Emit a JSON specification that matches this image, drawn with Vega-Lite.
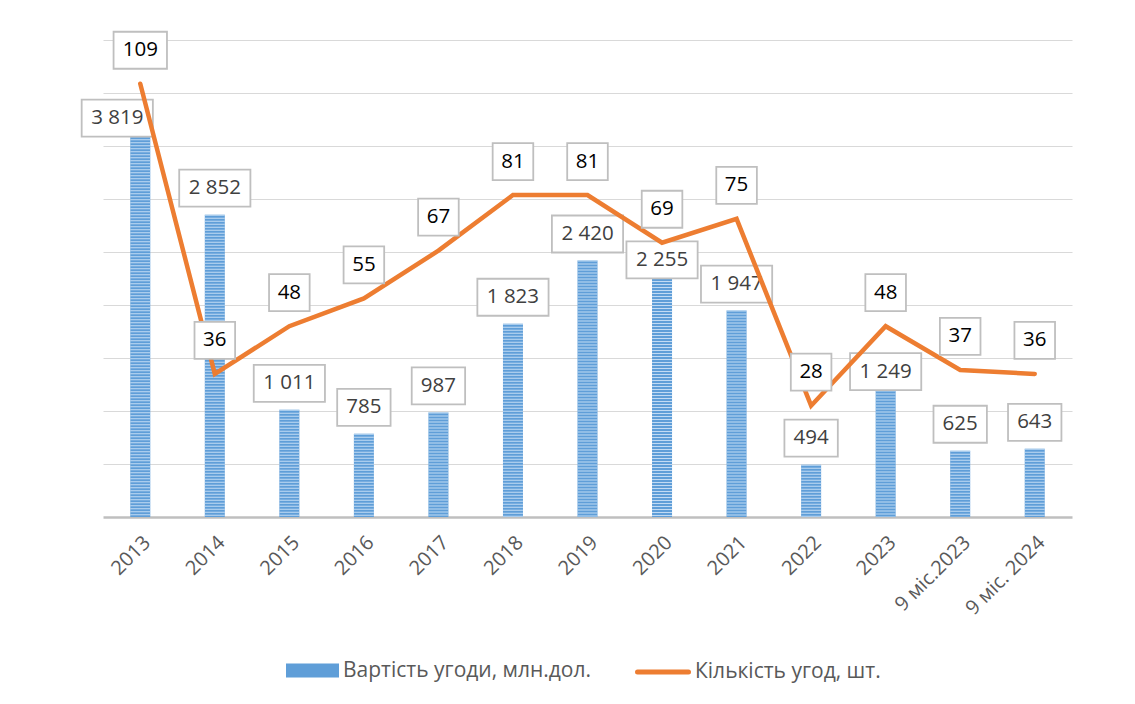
{
  "$schema": "https://vega.github.io/schema/vega-lite/v6.json",
  "width": 969,
  "height": 477,
  "autosize": {"type": "none"},
  "padding": {"left": 103, "top": 40, "right": 63, "bottom": 187},
  "background": "#ffffff",
  "config": {
    "view": {"stroke": null},
    "font": "Open Sans",
    "locale": {"number": {"decimal": ",", "thousands": " ", "grouping": [3], "currency": ["", ""]}}
  },
  "data": {
    "values": [
      {"period": "2013", "value": 3819, "count": 109},
      {"period": "2014", "value": 2852, "count": 36},
      {"period": "2015", "value": 1011, "count": 48},
      {"period": "2016", "value": 785, "count": 55},
      {"period": "2017", "value": 987, "count": 67},
      {"period": "2018", "value": 1823, "count": 81},
      {"period": "2019", "value": 2420, "count": 81},
      {"period": "2020", "value": 2255, "count": 69},
      {"period": "2021", "value": 1947, "count": 75},
      {"period": "2022", "value": 494, "count": 28},
      {"period": "2023", "value": 1249, "count": 48},
      {"period": "9 міс.2023", "value": 625, "count": 37},
      {"period": "9 міс. 2024", "value": 643, "count": 36}
    ]
  },
  "encoding": {
    "x": {
      "field": "period",
      "type": "nominal",
      "sort": null,
      "scale": {"paddingInner": 0.73, "paddingOuter": 0.365},
      "axis": {
        "title": null,
        "labelAngle": -45,
        "labelFontSize": 20,
        "labelColor": "#595959",
        "labelFont": "Open Sans",
        "ticks": false,
        "domainColor": "#BFBFBF",
        "domainWidth": 2.5,
        "labelPadding": 15,
        "grid": false
      }
    }
  },
  "layer": [
    {
      "encoding": {
        "y": {
          "field": "value",
          "type": "quantitative",
          "scale": {"domain": [0, 4500], "nice": false},
          "axis": {
            "title": null,
            "labels": false,
            "ticks": false,
            "domain": false,
            "grid": true,
            "gridColor": "#D9D9D9",
            "gridWidth": 1,
            "values": [500, 1000, 1500, 2000, 2500, 3000, 3500, 4000, 4500]
          }
        }
      },
      "layer": [
        {
          "mark": {"type": "bar", "width": 20},
          "encoding": {
            "fill": {
              "datum": "Вартість угоди, млн.дол.",
              "type": "nominal",
              "scale": {"domain": ["Вартість угоди, млн.дол."], "range": ["#5F9ED8"]},
              "legend": {
                "orient": "none",
                "legendX": 183,
                "legendY": 604,
                "title": null,
                "padding": 0,
                "symbolType": "M-1,-0.264H1V0.264H-1Z",
                "symbolSize": 2809,
                "symbolStrokeWidth": 0,
                "symbolOpacity": 1,
                "labelFontSize": 21,
                "labelFont": "Open Sans",
                "labelColor": "#595959",
                "labelOffset": 4,
                "labelLimit": 400
              }
            }
          }
        },
        {
          "mark": {"type": "rule", "stroke": "#C2DBF4", "strokeWidth": 20, "strokeDash": [1, 2], "strokeCap": "butt"},
          "encoding": {"y2": {"datum": 0}}
        },
        {
          "mark": {
            "type": "point",
            "shape": {"expr": "'M' + (-(12.8*length(toString(datum.value)) + (datum.value >= 1000 ? 5 : 0) + 15)/2) + ',-18.5H' + ((12.8*length(toString(datum.value)) + (datum.value >= 1000 ? 5 : 0) + 15)/2) + 'V18.5H' + (-(12.8*length(toString(datum.value)) + (datum.value >= 1000 ? 5 : 0) + 15)/2) + 'Z'"},
            "size": 4,
            "filled": true,
            "fill": "#ffffff",
            "stroke": "#BFBFBF",
            "strokeWidth": 1.8,
            "opacity": 1,
            "xOffset": {"expr": "datum.period === '2013' ? -23 : 0"},
            "yOffset": {"expr": "datum.period === '2013' ? 6 : datum.period === '2020' ? -18 : datum.period === '2023' ? -13 : -26.5"}
          }
        },
        {
          "mark": {
            "type": "text",
            "fontSize": 20.5,
            "font": "Open Sans",
            "color": "#404040",
            "baseline": "middle",
            "align": "center",
            "xOffset": {"expr": "datum.period === '2013' ? -23 : 0"},
            "yOffset": {"expr": "datum.period === '2013' ? 6 : datum.period === '2020' ? -18 : datum.period === '2023' ? -13 : -26.5"}
          },
          "encoding": {"text": {"field": "value", "type": "quantitative", "format": ","}}
        }
      ]
    },
    {
      "encoding": {
        "y": {
          "field": "count",
          "type": "quantitative",
          "scale": {"domain": [0, 120], "nice": false},
          "axis": null
        }
      },
      "layer": [
        {
          "mark": {"type": "line", "strokeWidth": 4.5, "strokeCap": "round"},
          "encoding": {
            "stroke": {
              "datum": "Кількість угод, шт.",
              "type": "nominal",
              "scale": {"domain": ["Кількість угод, шт."], "range": ["#ED7D31"]},
              "legend": {
                "orient": "none",
                "legendX": 532,
                "legendY": 604,
                "title": null,
                "padding": 0,
                "symbolType": "M-1,0H1",
                "symbolSize": 2601,
                "symbolStrokeWidth": 5,
                "labelFontSize": 21,
                "labelFont": "Open Sans",
                "labelColor": "#595959",
                "labelOffset": 4,
                "labelLimit": 400,
                "encode": {"symbols": {"update": {"strokeCap": {"value": "round"}, "opacity": {"value": 1}}}}
              }
            }
          }
        },
        {
          "mark": {
            "type": "point",
            "shape": {"expr": "'M' + (-(12.8*length(toString(datum.count)) + 15)/2) + ',-18.5H' + ((12.8*length(toString(datum.count)) + 15)/2) + 'V18.5H' + (-(12.8*length(toString(datum.count)) + 15)/2) + 'Z'"},
            "size": 4,
            "filled": true,
            "fill": "#ffffff",
            "stroke": "#BFBFBF",
            "strokeWidth": 1.8,
            "opacity": 1,
            "yOffset": -33.5
          }
        },
        {
          "mark": {"type": "text", "fontSize": 20.5, "font": "Open Sans", "color": "#000000", "baseline": "middle", "align": "center", "yOffset": -33.5},
          "encoding": {"text": {"field": "count", "type": "quantitative"}}
        }
      ]
    }
  ],
  "resolve": {"scale": {"y": "independent"}}
}
